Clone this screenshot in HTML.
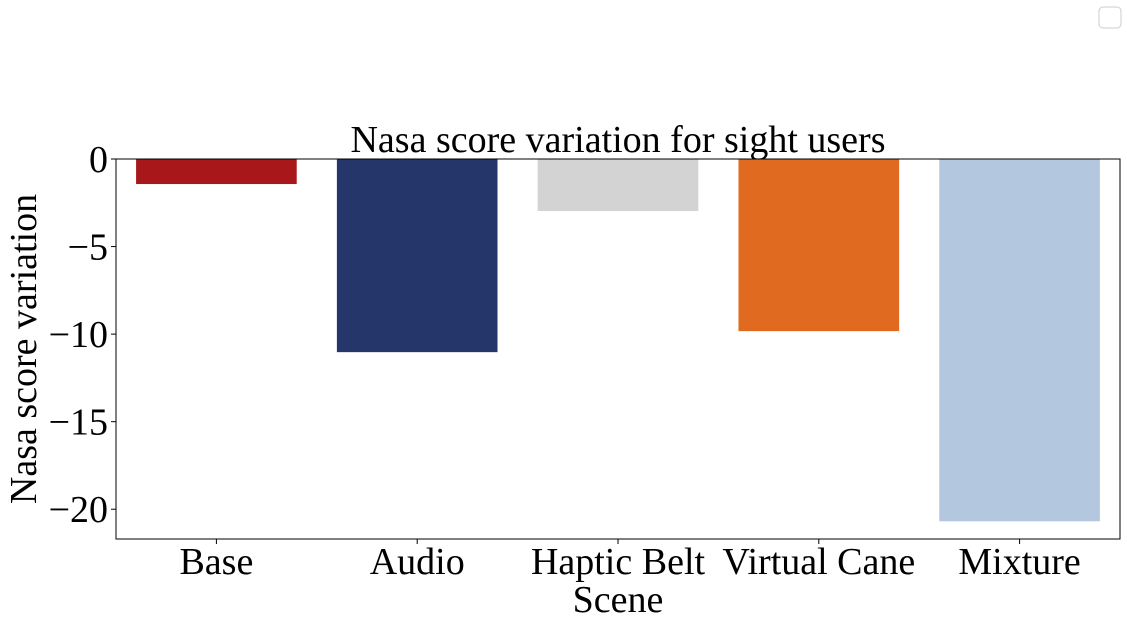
<!DOCTYPE html>
<html><head><meta charset="utf-8"><style>
body{margin:0;background:#fff;}
svg text{font-family:"Liberation Serif","DejaVu Serif",serif;fill:#000;}
</style></head><body>
<svg id="chart" width="1127" height="625" xmlns="http://www.w3.org/2000/svg">
<rect x="1099" y="7" width="22" height="21" rx="4" fill="#fff" stroke="#ccc" stroke-width="1"/>
<text x="618" y="152" font-size="38" text-anchor="middle">Nasa score variation for sight users</text>
<text x="618" y="612" font-size="38" text-anchor="middle">Scene</text>
<text transform="translate(36,349) rotate(-90)" font-size="38" text-anchor="middle">Nasa score variation</text>
<g id="bars"></g><g id="yticks"></g><g id="xticks"></g>
<rect x="116" y="159" width="1004" height="380" fill="none" stroke="#000" stroke-width="1"/>
</svg>
<script>
const categories = ["Base","Audio","Haptic Belt","Virtual Cane","Mixture"];
const values = [-1.43,-11.03,-2.97,-9.83,-20.69];
const colors = ["#a8181a","#25366b","#d3d3d3","#e06b20","#b3c8df"];
const yTicks = [0,-5,-10,-15,-20];
const L=116,R=1120,T=159,B=539,yMax=0,yMin=-21.7;
const ns="http://www.w3.org/2000/svg";
function y(v){return T+(yMax-v)/(yMax-yMin)*(B-T);}
const band=(R-L)/categories.length;
function xc(i){return L+band*(i+0.5);}
function mk(t,a,p){const e=document.createElementNS(ns,t);for(const k in a)e.setAttribute(k,a[k]);document.getElementById(p).appendChild(e);return e;}
categories.forEach((c,i)=>{
  const w=band*0.8;
  const r=mk('rect',{x:xc(i)-w/2,y:y(0),width:w,height:y(values[i])-y(0),fill:colors[i]},'bars');
  
  
  const tk=mk('line',{x1:xc(i),x2:xc(i),y1:B,y2:B+5,stroke:'#000'},'xticks');
  
  
  const t=mk('text',{x:xc(i),y:B+35,'font-size':38,'text-anchor':'middle'},'xticks');
  t.textContent=c;
  
  
});
yTicks.forEach(v=>{
  const tk=mk('line',{x1:L-5,x2:L,y1:y(v),y2:y(v),stroke:'#000'},'yticks');
  
  
  const t=mk('text',{x:L-8,y:y(v)+13,'font-size':38,'text-anchor':'end'},'yticks');
  t.textContent=v<0?'\u2212'+Math.abs(v):String(v);
  
  
});
</script>
</body></html>
